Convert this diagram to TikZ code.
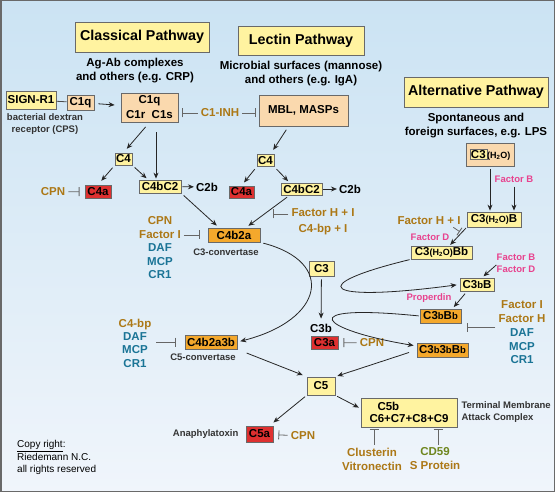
\documentclass[tikz,border=0pt]{standalone}
\usepackage{fontspec}
\setmainfont{Liberation Sans}
\usepackage{xcolor}
\usetikzlibrary{arrows.meta,positioning,calc}
\definecolor{bgtop}{RGB}{203,227,243}
\definecolor{bgbottom}{RGB}{240,245,251}
\definecolor{framegray}{RGB}{105,105,105}
\definecolor{boxyellow}{RGB}{255,243,160}
\definecolor{boxpeach}{RGB}{250,217,174}
\definecolor{boxorange}{RGB}{244,168,44}
\definecolor{boxred}{RGB}{222,48,48}
\definecolor{inhgold}{RGB}{172,120,22}
\definecolor{inhteal}{RGB}{26,116,150}
\definecolor{factorpink}{RGB}{232,66,142}
\definecolor{cdolive}{RGB}{110,134,30}
\newcommand{\htwoo}{{\fontsize{9}{10}\selectfont(H\textsubscript{2}O)}}
\newcommand{\lowb}{{\fontsize{9.5}{10}\selectfont b}}

\begin{document}
\begin{tikzpicture}[
    x=1pt,y=-1pt,
    box/.style={draw=framegray,line width=0.8pt,inner sep=1pt,font=\fontsize{11.5}{13}\selectfont\bfseries},
    ybox/.style={box,fill=boxyellow},
    pbox/.style={box,fill=boxpeach},
    obox/.style={box,fill=boxorange},
    rbox/.style={box,fill=boxred},
    titlebox/.style={draw=framegray,line width=0.8pt,fill=boxyellow,font=\fontsize{14.3}{16}\selectfont\bfseries},
    subtext/.style={align=center,inner sep=1pt,font=\fontsize{11.5}{14}\selectfont\bfseries},
    smalltext/.style={align=center,inner sep=1pt,text=black!80,font=\fontsize{9.5}{12}\selectfont\bfseries},
    inhtext/.style={align=center,inner sep=1pt,text=inhgold,font=\fontsize{11.5}{13.5}\selectfont\bfseries},
    pinktext/.style={align=center,inner sep=1pt,text=factorpink,font=\fontsize{9.5}{12}\selectfont\bfseries},
    conn/.style={-{Stealth[length=6pt,width=5pt]},line width=0.8pt,black!85,shorten <=3pt,shorten >=3pt},
    inhibit/.style={-{Bar[width=9pt,line width=0.9pt]},line width=0.8pt,black!60,shorten <=2pt}
]

% background and frame
\fill[top color=bgtop,bottom color=bgbottom] (0,0) rectangle (555,492);
\draw[framegray,line width=1.5pt] (0.75,0.75) rectangle (554.25,491.25);

% Pathway titles
\node[titlebox,minimum width=134pt,minimum height=30pt] (classical) at (142,37) {Classical Pathway};
\node[subtext,below=4.5pt of classical,xshift=-7pt] (classicalsrc) {Ag-Ab complexes\\and others (e.g. CRP)};
\node[titlebox,minimum width=126pt,minimum height=29pt] (lectin) at (301,40.5) {Lectin Pathway};
\node[subtext,below=5pt of lectin] (lectinsrc) {Microbial surfaces (mannose)\\and others (e.g. IgA)};
\node[titlebox,minimum width=144pt,minimum height=30pt] (alternative) at (476,92) {Alternative Pathway};
\node[subtext,below=4.5pt of alternative] (altsrc) {Spontaneous and\\foreign surfaces, e.g. LPS};

% Classical pathway
\node[ybox,minimum width=50pt,minimum height=18pt] (signr1) at (31,100) {SIGN-R1};
\node[pbox,minimum width=27pt,minimum height=15pt] (c1qs) at (80.5,102.5) {C1q};
\node[smalltext,below=3pt of signr1,xshift=14pt] (dextran) {bacterial dextran\\receptor (CPS)};
\node[pbox,minimum width=57pt,minimum height=29pt,align=center,font=\fontsize{11.5}{15}\selectfont\bfseries] (c1) at (149.5,107.5) {C1q\\C1r\ \ C1s};
\node[inhtext] (c1inh) at (220,113) {C1-INH};
\node[pbox,minimum width=89pt,minimum height=31pt] (mbl) at (303.5,110.5) {MBL, MASPs};

\node[ybox,minimum width=17pt,minimum height=12pt] (c4l) at (123.5,159) {C4};
\node[rbox,minimum width=26pt,minimum height=13pt] (c4al) at (98,191.5) {C4a};
\node[ybox,minimum width=42pt,minimum height=13pt] (c4bc2l) at (160,186.5) {C4bC2};
\node[inhtext] (cpnl) at (53,192) {CPN};
\node[subtext] (c2bl) at (207,187) {C2b};

% Lectin pathway
\node[ybox,minimum width=17pt,minimum height=12pt] (c4r) at (265.5,160.5) {C4};
\node[rbox,minimum width=25pt,minimum height=12pt] (c4ar) at (241.5,192) {C4a};
\node[ybox,minimum width=41pt,minimum height=12pt] (c4bc2r) at (301.5,189) {C4bC2};
\node[subtext] (c2br) at (350,189) {C2b};
\node[inhtext,font=\fontsize{11.5}{16}\selectfont\bfseries] (fhi1) at (323,222) {Factor H + I\\C4-bp + I};
\coordinate (hitl) at (273,214);

% C3- and C5-convertase
\node[obox,minimum width=52pt,minimum height=14pt] (c4b2a) at (234,235) {C4b2a};
\node[smalltext,below=5.5pt of c4b2a,xshift=-8pt] (c3conv) {C3-convertase};
\node[inhtext] (inhc3) at (160,248) {CPN\\Factor I\\\textcolor{inhteal}{DAF}\\\textcolor{inhteal}{MCP}\\\textcolor{inhteal}{CR1}};

\node[ybox,minimum width=25pt,minimum height=15pt] (c3) at (321.5,268.5) {C3};
\node[subtext] (c3b) at (321,328) {C3b};
\node[rbox,minimum width=27pt,minimum height=13pt] (c3a) at (324.5,342.5) {C3a};
\node[inhtext] (cpnc3a) at (372,343) {CPN};

\node[obox,minimum width=52pt,minimum height=14pt] (c4b2a3b) at (211,342) {C4b2a3b};
\node[smalltext,below=3.5pt of c4b2a3b,xshift=-8pt] (c5conv) {C5-convertase};
\node[inhtext,font=\fontsize{11.5}{13.3}\selectfont\bfseries] (inhc5) at (135,343) {C4-bp\\\textcolor{inhteal}{DAF}\\\textcolor{inhteal}{MCP}\\\textcolor{inhteal}{CR1}};

% Terminal pathway
\node[ybox,minimum width=28pt,minimum height=18pt] (c5) at (321,386) {C5};
\node[rbox,minimum width=27pt,minimum height=16pt] (c5a) at (259.5,434) {C5a};
\node[smalltext,left=6pt of c5a] (anaphyl) {Anaphylatoxin};
\node[inhtext] (cpnc5a) at (303,436) {CPN};
\node[ybox,minimum width=96pt,minimum height=29pt,align=left,font=\fontsize{11.5}{12.5}\selectfont\bfseries] (c5b) at (409,412.5) {\hspace*{8pt}C5b\\C6+C7+C8+C9};
\node[smalltext,right=3pt of c5b,align=left] (tmac) {Terminal Membrane\\Attack Complex};
\node[inhtext,font=\fontsize{11.5}{14}\selectfont\bfseries] (clust) at (372,459) {Clusterin\\Vitronectin};
\node[inhtext,font=\fontsize{11.5}{14}\selectfont\bfseries] (cd59) at (435,459) {\textcolor{cdolive}{CD59}\\S Protein};

% Alternative pathway
\node[pbox,minimum width=48pt,minimum height=23pt] (c3h2o) at (490,154.5) {\setlength{\fboxsep}{1pt}\fcolorbox{framegray}{boxyellow}{C3}\htwoo};
\node[pinktext] (facb1) at (514,179) {Factor B};
\node[ybox,minimum width=54pt,minimum height=15pt] (c3h2ob) at (494,219.5) {C3\htwoo B};
\node[inhtext] (fhi2) at (429,221) {Factor H + I};
\node[pinktext] (facd1) at (430,237) {Factor D};
\node[ybox,minimum width=61pt,minimum height=13pt] (c3h2obb) at (441.5,252.5) {C3\htwoo Bb};
\node[pinktext] (facbd) at (516,263) {Factor B\\Factor D};
\node[ybox,minimum width=34pt,minimum height=13pt] (c3bb) at (477,284.5) {C3\lowb B};
\node[pinktext] (properdin) at (429,298) {Properdin};
\node[obox,minimum width=41pt,minimum height=14pt] (c3bbb) at (440.5,316) {C3\lowb B\lowb};
\node[inhtext,font=\fontsize{11.5}{13.75}\selectfont\bfseries] (inhalt) at (522,332.5) {Factor I\\Factor H\\\textcolor{inhteal}{DAF}\\\textcolor{inhteal}{MCP}\\\textcolor{inhteal}{CR1}};
\node[obox,minimum width=51pt,minimum height=14pt] (c3b3bbb) at (442.5,350) {C3\lowb 3\lowb B\lowb};

% Connections classical
\draw[line width=0.8pt,black!70] (signr1) -- (c1qs);
\draw[conn,shorten <=4pt,shorten >=6pt] (c1qs) -- (c1);
\draw[inhibit,shorten >=4pt] (c1inh.west) -- (c1inh.west -| c1.east);
\draw[inhibit,shorten >=3pt] (c1inh.east) -- (c1inh.east -| mbl.west);
\draw[conn,shorten <=6pt,shorten >=5pt] (c1.south) -- (c4l.north);
\draw[conn,shorten <=10pt,shorten >=1pt] ([xshift=6.5pt]c1.south) -- ([xshift=6.5pt]c1.south |- c4bc2l.north);
\draw[conn,shorten >=5pt] (c4l.south west) -- (c4al.north);
\draw[conn,shorten >=2pt] (c4l.south east) -- ([xshift=-12pt]c4bc2l.north);
\draw[inhibit,shorten >=5pt] (cpnl) -- (c4al);
\draw[conn,shorten <=1pt,shorten >=1pt] (c4bc2l) -- (c2bl);
\draw[conn] (c4bc2l.south east) -- ([xshift=-15pt]c4b2a.north);

% Connections lectin
\draw[conn,shorten <=4pt,shorten >=5pt] ([xshift=-15pt]mbl.south) -- ([xshift=5pt]c4r.north);
\draw[conn,shorten >=4pt] (c4r.south west) -- (c4ar.north);
\draw[conn,shorten >=2pt] (c4r.south east) -- ([xshift=-12pt]c4bc2r.north);
\draw[conn,shorten <=1pt,shorten >=1pt] (c4bc2r) -- (c2br);
\draw[conn] ([xshift=-12pt]c4bc2r.south) -- ([xshift=12pt]c4b2a.north);
\draw[inhibit] ([yshift=8pt]fhi1.west) -- (hitl);

% Connections convertases
\draw[inhibit,shorten >=8pt] (inhc3.east |- c4b2a.west) -- (c4b2a.west);
\draw[conn] (c4b2a.south east) .. controls (336,262) and (324,320) .. (c4b2a3b.east);
\draw[conn,shorten >=4pt] (c3) -- (c3b);
\draw[inhibit,shorten >=5pt] (cpnc3a) -- (c3a);
\draw[inhibit,shorten <=4pt,shorten >=9pt] (inhc5.east |- c4b2a3b.west) -- (c4b2a3b.west);
\draw[conn,shorten <=10pt,shorten >=4pt] (c4b2a3b.south east) -- (c5.north west);
\draw[conn,shorten <=8pt,shorten >=2pt] (c3b3bbb.west) -- (c5.north east);
\draw[conn,shorten <=2pt,shorten >=5pt] (c5.south west) -- ([xshift=10pt]c5a.north);
\draw[conn,shorten <=2pt,shorten >=2pt] (c5.south east) -- ([yshift=4pt]c5b.west);
\draw[inhibit,shorten >=5pt] (cpnc5a) -- (c5a);
\draw[inhibit,shorten >=2pt] ([xshift=2pt]clust.north) -- ([xshift=2pt]clust.north |- c5b.south);
\draw[inhibit,shorten >=2pt] ([xshift=3pt]cd59.north) -- ([xshift=3pt]cd59.north |- c5b.south);

% Connections alternative
\draw[conn,shorten >=1pt] (c3h2o.south) -- (c3h2o.south |- c3h2ob.north);
\draw[conn,shorten >=1pt] (facb1) -- (facb1 |- c3h2ob.north);
\draw[conn,shorten <=1pt,shorten >=1pt] (c3h2ob.south west) -- coordinate[pos=0.3] (hitalt) ([xshift=8pt]c3h2obb.north);
\draw[inhibit,shorten >=2pt] ([xshift=-10pt]fhi2.south east) -- (hitalt);
\draw[conn,shorten <=1pt] (c3h2obb.south west) .. controls (305,285) and (320,303) .. (c3bb.west);
\draw[conn,shorten >=2pt] ([xshift=3pt]facbd.west) -- ([xshift=5pt]c3bb.north);
\draw[conn,shorten >=2pt] ([xshift=-10pt]c3bb.south) -- ([xshift=12pt]c3bbb.north);
\draw[inhibit,shorten >=6pt] ([yshift=5.5pt]inhalt.west) -- ([yshift=5.5pt]inhalt.west -| c3bbb.east);
\draw[conn,shorten <=1pt] (c3bbb.west) .. controls (290,303) and (320,330) .. ([yshift=4pt]c3b3bbb.west);

% copyright
\node[align=left,anchor=north west,inner sep=0pt,font=\fontsize{10}{12.5}\selectfont] (copyr) at (17,440.5) {\underline{Copy right}:\\Riedemann N.C.\\all rights reserved};

\end{tikzpicture}
\end{document}
